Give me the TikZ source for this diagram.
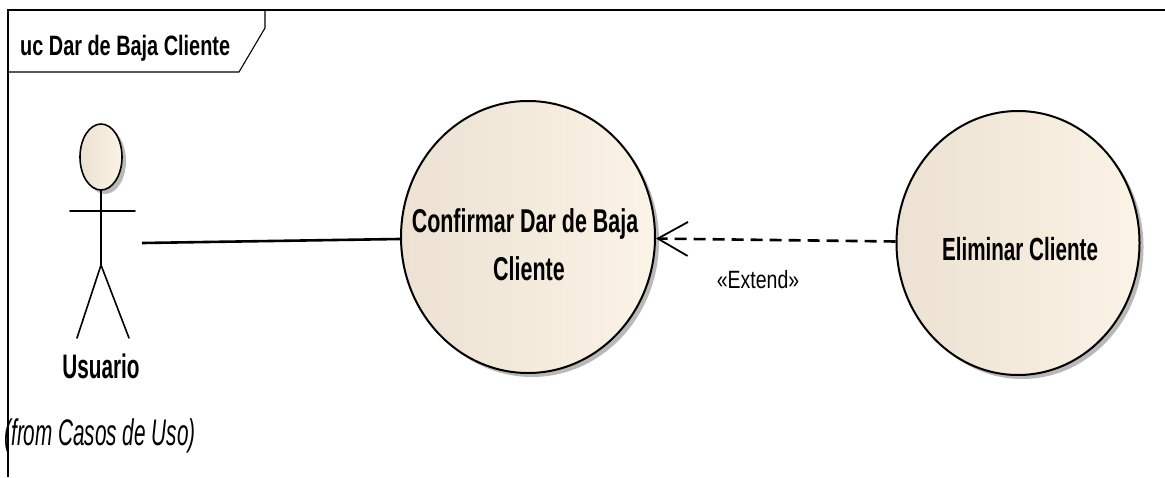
\documentclass[tikz,border=0pt]{standalone}
\usepackage{fontspec}
\setmainfont{Liberation Sans}
\usetikzlibrary{shapes.geometric,arrows.meta,shadows}
\definecolor{ucL}{RGB}{236,225,210}
\definecolor{ucR}{RGB}{251,243,230}
\definecolor{shd}{RGB}{185,185,185}
\begin{document}
\begin{tikzpicture}[x=1pt,y=-1pt,
  frameline/.style={line width=1.1pt,draw=black},
  ucshape/.style={ellipse,draw=black,line width=2pt,inner sep=0pt,
    left color=ucL,right color=ucR,
    drop shadow={shadow xshift=4pt,shadow yshift=-4pt,fill=shd,opacity=1}},
  stick/.style={line width=1.6pt,line cap=round},
  bigbold/.style={font=\fontsize{33}{36}\selectfont\bfseries,inner sep=0pt,anchor=base},
  assoc/.style={line width=2.6pt},
  extendline/.style={line width=2.6pt,dash pattern=on 12pt off 7pt,
    -{Straight Barb[length=30pt,width=34pt,line width=1.8pt]}},
]
\useasboundingbox (0,0) rectangle (1165,477);
% frame
\draw[frameline] (1165,10) -- (8,10) -- (8,477);
\draw[frameline] (8,10) -- (265,10) -- (265,28) -- (239,72) -- (8,72);
\node[font=\fontsize{28}{30}\selectfont\bfseries,inner sep=0pt,anchor=base west] (title) at (20,55) {\scalebox{0.71}[1]{uc Dar de Baja Cliente}};
% actor
\node[ellipse,draw=black,line width=1.6pt,inner sep=0pt,minimum width=42pt,minimum height=66pt,
  left color=ucL,right color=ucR,
  drop shadow={shadow xshift=4pt,shadow yshift=-4pt,fill=shd,opacity=1}] (head) at (101,157) {};
\coordinate (hip) at (101,265);
\coordinate (armL) at (70,211);
\coordinate (armR) at (135,211);
\coordinate (footL) at (77,338);
\coordinate (footR) at (129,338);
\draw[stick] (head.south) -- (hip);
\draw[stick] (armL) -- (armR);
\draw[stick] (footL) -- (hip) -- (footR);
\node[bigbold,font=\fontsize{34}{36}\selectfont\bfseries] (actorname) at (101,378) {\scalebox{0.61}[1]{Usuario}};
\node[inner sep=0pt,anchor=base,font=\fontsize{37}{40}\selectfont\itshape] (actorfrom) at (100,445) {\scalebox{0.56}[1]{(from Casos de Uso)}};
\coordinate (actorend) at (142,243);
% use cases
\node[ucshape,minimum width=254pt,minimum height=272pt] (uc1) at (528,237) {};
\node[ucshape,minimum width=243pt,minimum height=264pt] (uc2) at (1018,243) {};
\node[bigbold] (uc1a) at (525,232) {\scalebox{0.65}[1]{Confirmar Dar de Baja}};
\node[bigbold] (uc1b) at (529,280) {\scalebox{0.65}[1]{Cliente}};
\node[bigbold,font=\fontsize{32}{36}\selectfont\bfseries] (uc2a) at (1020,260) {\scalebox{0.645}[1]{Eliminar Cliente}};
% connectors
\draw[assoc] (actorend) -- (uc1);
\draw[extendline] (uc2) -- (uc1);
\node[inner sep=0pt,anchor=base,font=\fontsize{25}{28}\selectfont] (extlbl) at (758,288) {\scalebox{0.78}[1]{«Extend»}};
\end{tikzpicture}
\end{document}
